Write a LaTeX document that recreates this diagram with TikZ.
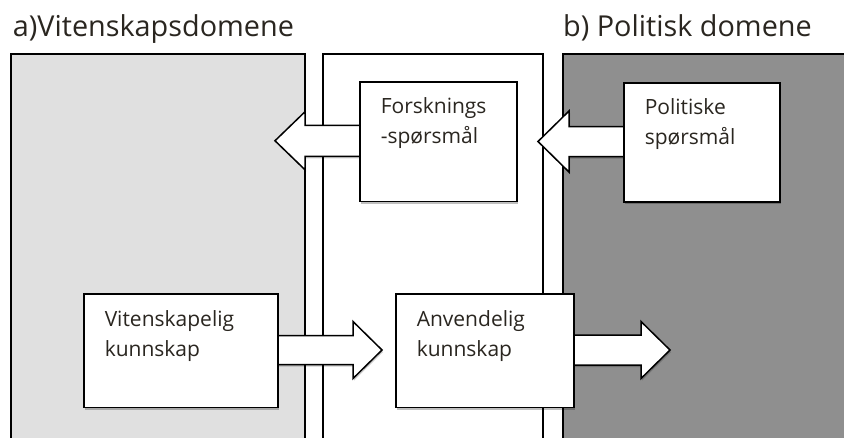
\documentclass[tikz,border=0pt]{standalone}
\usepackage{fontspec}
\setmainfont{Open Sans}
\usetikzlibrary{calc,shadows}
\definecolor{lightpanel}{HTML}{E0E0E0}
\definecolor{darkpanel}{HTML}{8F8F8F}
\definecolor{txt}{HTML}{2A2620}
\newcommand{\boxtxt}[3]{\parbox[t][#2][t]{#1}{#3}}
\begin{document}
\begin{tikzpicture}[x=1pt,y=-1pt,
  panelline/.style={draw=black,line width=2pt},
  boxnode/.style={draw=black,line width=1.5pt,fill=white,anchor=north west,
    inner xsep=21pt,inner ysep=16pt,align=left,text=txt,
    font=\fontsize{21}{30}\selectfont,
    drop shadow={shadow xshift=1.5pt,shadow yshift=-2.5pt,fill=black,opacity=0.25}},
  blockarrow/.style={draw=black,line width=1.5pt,fill=white,line join=miter,
    drop shadow={shadow xshift=1pt,shadow yshift=-2pt,fill=black,opacity=0.2}},
  titlenode/.style={anchor=base west,inner sep=0pt,text=txt,font=\fontsize{28.8}{34}\selectfont}]
\useasboundingbox (0,0) rectangle (844,437);
\clip (0,0) rectangle (844,437);
% panels
\fill[lightpanel] (10.7,54) rectangle (305,445);
\draw[panelline] (10.7,445) -- (10.7,54) -- (305,54) -- (305,445);
\draw[panelline] (323,445) -- (323,54) -- (543,54) -- (543,445);
\fill[darkpanel] (563,54) rectangle (850,445);
\draw[panelline] (563,445) -- (563,54) -- (850,54);
% titles
\node[titlenode] (ta) at (12.7,36) {a)Vitenskapsdomene};
\node[titlenode] (tb) at (563,36) {b) Politisk domene};
% box positions
\path (359,81) coordinate (fqpos);
\path (623,82) coordinate (pqpos);
\path (83,293.3) coordinate (vkpos);
\path (395,293.3) coordinate (akpos);
% arrows
\coordinate (fqw) at (359,140.75);
\coordinate (pqw) at (623,141.5);
\coordinate (vke) at (277,350);
\coordinate (ake) at (573,350);
\draw[blockarrow] ($(fqw)+(2,-15.5)$) -- ++(-56,0) -- ++(0,-13.5) -- ++(-30,29) -- ++(30,29) -- ++(0,-13.5) -- ++(56,0) -- cycle;
\draw[blockarrow] ($(pqw)+(2,-15)$) -- ++(-56,0) -- ++(0,-15.5) -- ++(-31,30.5) -- ++(31,30.5) -- ++(0,-15.5) -- ++(56,0) -- cycle;
\draw[blockarrow] ($(vke)+(-2,-14.5)$) -- ++(78,0) -- ++(0,-14) -- ++(29,28.5) -- ++(-29,28.5) -- ++(0,-14) -- ++(-78,0) -- cycle;
\draw[blockarrow] ($(ake)+(-2,-15)$) -- ++(70,0) -- ++(0,-13.5) -- ++(29,28.5) -- ++(-29,28.5) -- ++(0,-13.5) -- ++(-70,0) -- cycle;
% boxes
\node[boxnode] (fq) at (fqpos) {\boxtxt{115pt}{87.5pt}{Forsknings\\-spørsmål}};
\node[boxnode] (pq) at (pqpos) {\boxtxt{114pt}{87pt}{Politiske\\spørsmål}};
\node[boxnode] (vk) at (vkpos) {\boxtxt{152pt}{81.4pt}{Vitenskapelig\\kunnskap}};
\node[boxnode] (ak) at (akpos) {\boxtxt{136pt}{81.4pt}{Anvendelig\\kunnskap}};
\end{tikzpicture}
\end{document}
